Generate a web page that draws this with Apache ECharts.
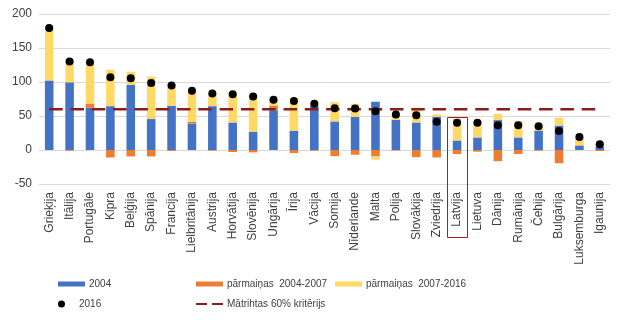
<!DOCTYPE html>
<html>
<head>
<meta charset="utf-8">
<script src="https://cdn.jsdelivr.net/npm/echarts@6/dist/echarts.min.js"></script>
<style>
  html, body { margin: 0; padding: 0; background: #ffffff; }
  #chart { width: 624px; height: 323px; }
</style>
</head>
<body>
<div id="chart"></div>
<script>
// Valsts parāds, % no IKP
const countries = ['Grieķija','Itālija','Portugāle','Kipra','Beļģija','Spānija','Francija','Lielbritānija','Austrija','Horvātija','Slovēnija','Ungārija','Īrija','Vācija','Somija','Nīderlande','Malta','Polija','Slovākija','Zviedrija','Latvija','Lietuva','Dānija','Rumānija','Čehija','Bulgārija','Luksemburga','Igaunija'];
const debt2004 = [102, 99.5, 62, 64.5, 96, 45.5, 65, 39, 64.5, 40.5, 27, 58.5, 28.5, 64.5, 42, 48.5, 71, 44.5, 40.5, 49, 14, 18.5, 44, 18.5, 28.5, 36, 6.5, 5];
const change2004to2007 = [0.5, -1, 6.4, -11, -9.5, -9.5, -1.5, 2.5, -1, -3, -3.5, 6.5, -4.5, -1, -9, -7, -9.5, -0.8, -10.5, -11, -6, -2.5, -16.5, -6, -1, -19.5, 0.5, -1.5];
const change2007to2016 = [77, 31.5, 60.5, 53.5, 19, 62.5, 31.5, 45.5, 19.5, 44.5, 55, 9, 48, 4.5, 28.5, 19.5, -4.5, 8.5, 21, 3.5, 32, 24, 9, 24, 7.5, 11.5, 12, 5];
const debt2016 = [179.5, 130, 128.9, 107, 105.5, 98.5, 95, 87, 83, 82, 78.5, 74, 72, 68, 61.5, 61, 57, 52.2, 51, 41.5, 40, 40, 36.5, 36.5, 35, 28, 19, 8.5];
const maastrichtLimit = 60;
const highlighted = 'Latvija';
const yTicks = { min: -50, max: 200, interval: 50 };

const names = {
  base: '2004',
  ch1: 'pārmaiņas  2004-2007',
  ch2: 'pārmaiņas  2007-2016',
  dots: '2016',
  limit: 'Mātrihtas 60% kritērijs'
};

const textColor = '#404040';
const fontAxis = 'Liberation Sans, Arial, sans-serif';

const chart = echarts.init(document.getElementById('chart'), null, { renderer: 'canvas' });

function legendAt(left, top, items, extra) {
  return Object.assign({
    left: left, top: top, orient: 'horizontal',
    itemWidth: 27, itemHeight: 5, itemGap: 0,
    selectedMode: false, padding: 0,
    textStyle: { color: textColor, fontSize: 10, fontFamily: fontAxis, padding: [0, 0, 0, -1] },
    data: items
  }, extra || {});
}

const option = {
  backgroundColor: '#ffffff',
  animation: false,
  grid: { left: 39, right: 14, top: 14, bottom: 139, containLabel: false },
  xAxis: {
    type: 'category',
    data: countries,
    axisLine: { show: false, onZero: false },
    axisTick: { show: false },
    axisLabel: { rotate: 90, margin: 8, color: textColor, fontSize: 12, fontFamily: fontAxis, interval: 0 }
  },
  yAxis: {
    type: 'value',
    min: yTicks.min, max: yTicks.max, interval: yTicks.interval,
    axisLine: { show: false },
    axisTick: { show: false },
    axisLabel: { margin: 7, color: textColor, fontSize: 12, fontFamily: fontAxis },
    splitLine: { lineStyle: { color: '#d9d9d9', width: 1 } }
  },
  legend: [
    legendAt(58, 279, [{ name: names.base, icon: 'rect' }]),
    legendAt(196, 279, [{ name: names.ch1, icon: 'rect' }]),
    legendAt(335, 279, [{ name: names.ch2, icon: 'rect' }]),
    legendAt(58, 299, [{ name: names.dots, icon: 'circle' }], { itemHeight: 7 }),
    legendAt(196, 299, [{ name: names.limit, icon: 'path://M0,0 H11 V2 H0 Z M16,0 H27 V2 H16 Z' }], { itemHeight: 3 })
  ],
  series: [
    { name: names.base, type: 'bar', stack: 'debt', data: debt2004, barWidth: '42%',
      itemStyle: { color: '#4472c4' } },
    { name: names.ch1, type: 'bar', stack: 'debt', data: change2004to2007, barWidth: '42%',
      itemStyle: { color: '#ed7d31' } },
    { name: names.ch2, type: 'bar', stack: 'debt', data: change2007to2016, barWidth: '42%',
      itemStyle: { color: '#ffd966' } },
    { name: names.limit, type: 'line', data: countries.map(() => maastrichtLimit),
      symbol: 'none', z: 3,
      lineStyle: { color: '#8c1c1c', width: 2.5, type: [13.5, 7.8] },
      itemStyle: { color: '#8c1c1c' } },
    { name: names.dots, type: 'scatter', data: debt2016, symbol: 'circle', symbolSize: 8, z: 4,
      itemStyle: { color: '#000000', opacity: 1 } }
  ]
};

chart.setOption(option);

// Frame around the highlighted country, spanning its bar and label
const idx = countries.indexOf(highlighted);
const cx = chart.convertToPixel({ xAxisIndex: 0 }, idx);
const band = chart.convertToPixel({ xAxisIndex: 0 }, 1) - chart.convertToPixel({ xAxisIndex: 0 }, 0);
const yTop = chart.convertToPixel({ yAxisIndex: 0 }, 48);
const yBottom = chart.convertToPixel({ yAxisIndex: 0 }, yTicks.min) + 53;
chart.setOption({
  graphic: [{
    type: 'rect', z: 10, silent: true,
    shape: { x: Math.round(cx - band / 2) + 0.5, y: Math.round(yTop) + 0.5, width: Math.round(band), height: Math.round(yBottom - yTop) },
    style: { fill: 'none', stroke: '#a02020', lineWidth: 1 }
  }]
});
</script>
</body>
</html>
